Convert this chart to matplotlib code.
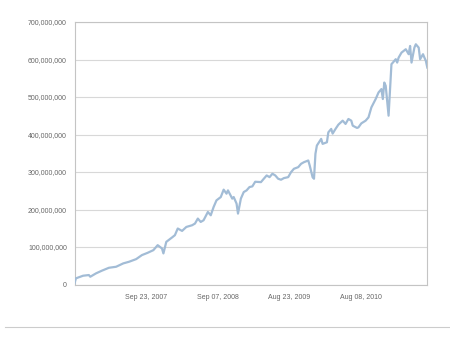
import matplotlib
matplotlib.use("Agg")
import matplotlib.pyplot as plt
import matplotlib.dates as mdates
from matplotlib.ticker import FuncFormatter
from matplotlib.lines import Line2D
import numpy as np
import pandas as pd

# weekly series, week number counted from the first Sunday
start_date = "2006-10-08"
weeks = [0, 1, 6, 10, 11, 15, 19, 24, 29, 34, 38, 43, 47, 51, 55, 58, 61, 62,
         64, 68, 70, 72, 75, 78, 82, 84, 86, 88, 90, 93, 95, 97, 99, 102, 104,
         106, 107, 110, 111, 113, 114, 116, 118, 120, 122, 124, 126, 130, 132,
         134, 136, 138, 140, 142, 144, 146, 149, 151, 153, 156, 158, 160, 163,
         164, 166, 167, 168, 169, 172, 173, 176, 177, 179, 180, 182, 184, 187,
         189, 191, 193, 194, 197, 198, 200, 203, 205, 207, 210, 212, 214, 215,
         216, 217, 218, 219, 221, 222, 224, 225, 226, 228, 231, 233, 234, 235,
         237, 238, 240, 241, 243, 244, 245, 246]
# values in millions
values = [3, 16.5, 23.4, 25.2, 20.7, 29.7, 36.7, 44.6, 47.3, 56.3, 60.6, 67.7,
          78.4, 84.5, 91.6, 104.9, 96.1, 82.9, 113.7, 125.4, 131.5, 149.3,
          142.9, 153.5, 158, 162.5, 175.8, 166.8, 171.3, 193.4, 184.6, 206.6,
          224.4, 233.2, 252.9, 242.2, 251, 229, 233.2, 215.7, 189.1, 229,
          246.5, 251, 259.8, 261.6, 274, 273, 282, 290.8, 286.3, 295.4, 290.8,
          282, 279.4, 283.7, 286.3, 299.6, 308.6, 312.9, 321.9, 326.2, 330.7,
          317.4, 286.3, 282, 348.5, 370.5, 388.3, 375, 379.3, 405.8, 414.9,
          402.4, 414.9, 426.3, 436.9, 428.2, 441.4, 436.9, 423.6, 417.5,
          419.1, 429.7, 436.9, 445.7, 472.2, 494.6, 512.1, 521.1, 494.6,
          538.6, 529.9, 490, 450.2, 587.5, 591.8, 600.8, 591.8, 605, 618.3,
          627.4, 614.1, 636.1, 591.8, 631.6, 640.6, 631.6, 600.8, 614.1, 605,
          596.3, 578.5]

tick_dates = ["2007-09-23", "2008-09-07", "2009-08-23", "2010-08-08"]
y_ticks = [0, 100, 200, 300, 400, 500, 600, 700]

dates = pd.Timestamp(start_date) + pd.to_timedelta(np.array(weeks) * 7, unit="D")
amounts = np.array(values) * 1e6

plt.rcParams["font.family"] = ["Liberation Sans", "DejaVu Sans"]

fig = plt.figure(figsize=(4.5, 3.47), dpi=100)
ax = fig.add_axes([74.5 / 450, 62.5 / 347, 352.8 / 450, 262.5 / 347])

ax.plot(dates, amounts, color="#a2bcd6", linewidth=1.6, solid_joinstyle="round", zorder=3)

ax.set_xlim(dates[0], dates[-1])
ax.set_ylim(0, 700e6)
ax.set_yticks([t * 1e6 for t in y_ticks])
ax.yaxis.set_major_formatter(FuncFormatter(lambda v, p: f"{v:,.0f}"))
ax.set_xticks(pd.to_datetime(tick_dates))
ax.xaxis.set_major_formatter(mdates.DateFormatter("%b %d, %Y"))

ax.grid(axis="y", color="#d8d8d8", linewidth=0.8, zorder=1)
ax.tick_params(axis="both", length=0, labelsize=5, labelcolor="#666666")
ax.tick_params(axis="y", pad=5.5)
ax.tick_params(axis="x", pad=7)
for sp in ax.spines.values():
    sp.set_color("#c4c4c4")
    sp.set_linewidth(0.8)

# thin rule across the bottom of the figure
fig.add_artist(Line2D([5 / 450, 1.0], [1 - 327 / 347] * 2, color="#cccccc", linewidth=0.8))

fig.savefig("out.png", dpi=100)
